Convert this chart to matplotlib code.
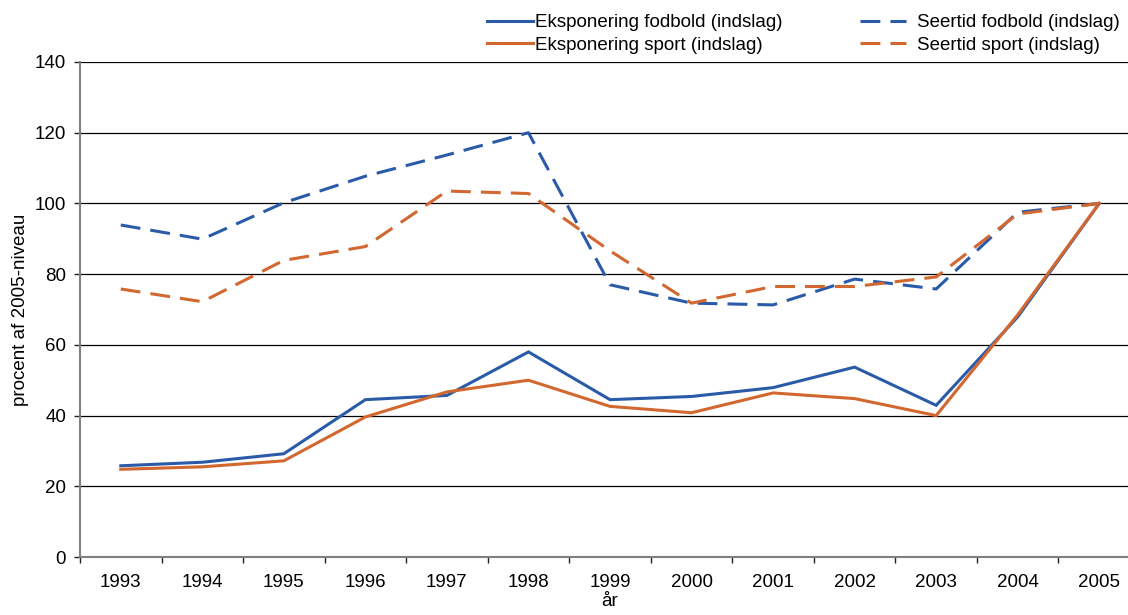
import matplotlib
matplotlib.use("Agg")
import matplotlib.pyplot as plt
from matplotlib.lines import Line2D

plt.rcParams['font.family'] = ['Liberation Sans', 'DejaVu Sans']

years = ['1993', '1994', '1995', '1996', '1997', '1998', '1999',
         '2000', '2001', '2002', '2003', '2004', '2005']
eksp_fodbold = [25.8, 26.8, 29.2, 44.5, 45.7, 58.0, 44.5, 45.4, 47.9, 53.7, 42.9, 67.9, 100]
eksp_sport = [24.8, 25.5, 27.2, 39.6, 46.7, 50.0, 42.6, 40.8, 46.4, 44.8, 40.0, 68.5, 100]
seer_fodbold = [93.9, 89.9, 100.2, 107.7, 113.7, 120.0, 77.0, 71.8, 71.3, 78.6, 75.8, 97.5, 100]
seer_sport = [75.8, 72.2, 83.9, 87.8, 103.5, 102.8, 86.6, 71.8, 76.5, 76.5, 79.2, 97.0, 100]
yticks = [0, 20, 40, 60, 80, 100, 120, 140]

BLUE = '#2A5BA8'
ORANGE = '#D2672F'
FS = 13.5

fig = plt.figure(figsize=(11.28, 6.15), dpi=100)
ax = fig.add_axes([80/1128, 58/615, 1060/1128, 495/615])

x = list(range(len(years)))
lw = 2.2
DASH = (6.5, 3.3)
ax.plot(x, eksp_fodbold, color=BLUE, lw=lw, solid_joinstyle='miter', zorder=3)
ax.plot(x, eksp_sport, color=ORANGE, lw=lw, solid_joinstyle='miter', zorder=3)
ax.plot(x, seer_fodbold, color=BLUE, lw=lw, dashes=DASH, zorder=3)
ax.plot(x, seer_sport, color=ORANGE, lw=lw, dashes=DASH, zorder=3)

ax.set_xlim(-0.5, len(years) - 0.5)
ax.set_ylim(0, 140)
ax.set_yticks(yticks)
ax.set_yticklabels([str(v) for v in yticks], fontsize=FS)
ax.set_xticks(x)
ax.set_xticklabels(years, fontsize=FS)
ax.set_xticks([i + 0.5 for i in range(-1, len(years))], minor=True)
ax.tick_params(axis='x', which='major', length=0, pad=12)
ax.tick_params(axis='x', which='minor', length=4, width=1, color='#222222', direction='out')
ax.tick_params(axis='y', length=4, width=1, color='#222222', direction='out', pad=6)

ax.grid(axis='y', color='black', lw=0.9, zorder=1)
ax.set_axisbelow(True)
for s in ['top', 'right']:
    ax.spines[s].set_visible(False)
for s in ['left', 'bottom']:
    ax.spines[s].set_color('#808080')
    ax.spines[s].set_linewidth(1.5)

ax.set_xlabel('år', fontsize=FS, labelpad=2)
ax.set_ylabel('procent af 2005-niveau', fontsize=FS, labelpad=4)

h1 = [Line2D([], [], color=BLUE, lw=lw), Line2D([], [], color=ORANGE, lw=lw)]
l1 = ['Eksponering fodbold (indslag)', 'Eksponering sport (indslag)']
h2 = [Line2D([], [], color=BLUE, lw=lw, dashes=DASH),
      Line2D([], [], color=ORANGE, lw=lw, dashes=DASH)]
l2 = ['Seertid fodbold (indslag)', 'Seertid sport (indslag)']

leg1 = fig.legend(h1, l1, frameon=False, fontsize=FS, loc='upper left',
                  bbox_to_anchor=(487/1128, 1 - 14/615), borderaxespad=0, borderpad=0,
                  handlelength=2.45, handletextpad=0.1, labelspacing=0.3)
leg2 = fig.legend(h2, l2, frameon=False, fontsize=FS, loc='upper left',
                  bbox_to_anchor=(860/1128, 1 - 14/615), borderaxespad=0, borderpad=0,
                  handlelength=2.45, handletextpad=0.6, labelspacing=0.3)

fig.savefig('out.png', dpi=100)
